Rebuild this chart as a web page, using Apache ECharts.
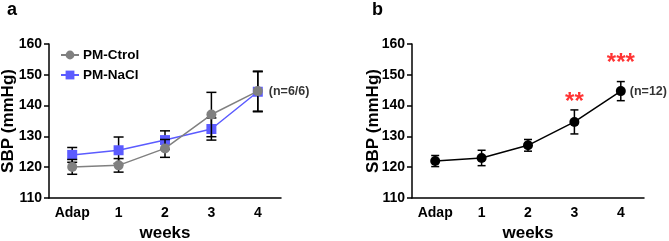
<!DOCTYPE html>
<html>
<head>
<meta charset="utf-8">
<script src="https://cdn.jsdelivr.net/npm/echarts@6/dist/echarts.min.js"></script>
<style>
  html, body { margin: 0; padding: 0; background: #fff; }
  #chart { width: 669px; height: 241px; }
</style>
</head>
<body>
<div id="chart"></div>
<script>
// 数据
const weeks = ['Adap', '1', '2', '3', '4'];
// panel a
const ctrolMean = [120.1, 120.6, 126.1, 137.1, 144.7];
const ctrolSem = [2.4, 2.2, 2.9, 7.2, 6.5];
const naclMean = [124.0, 125.5, 128.8, 132.4, 144.5];
const naclSem = [2.4, 4.3, 3.0, 3.6, 6.5];
// panel b
const allMean = [122.0, 123.0, 127.1, 134.7, 144.7];
const allSem = [1.8, 2.5, 1.9, 3.9, 3.1];
const stars = ['', '', '', '**', '***'];
const starLevel = [null, null, null, 143.1, 155.5]; // 星号所在的 SBP 高度
const yTicks = [110, 160, 10]; // min, max, interval

const font = 'Arial, "Liberation Sans", sans-serif';
const grey = '#808080';
const blue = '#5b5bff';

function xAxis(gi) {
  return {
    type: 'category', gridIndex: gi, data: weeks, boundaryGap: true,
    name: 'weeks', nameLocation: 'middle', nameGap: 26,
    nameTextStyle: { color: '#000', fontWeight: 'bold', fontSize: 17, fontFamily: font },
    axisLine: { lineStyle: { color: '#000', width: 1.5 } },
    axisTick: { alignWithLabel: true, length: 5, lineStyle: { color: '#000', width: 1.5 } },
    axisLabel: { color: '#000', fontWeight: 'bold', fontSize: 14, fontFamily: font, margin: 8 }
  };
}
function yAxis(gi, gap) {
  return {
    type: 'value', gridIndex: gi, min: yTicks[0], max: yTicks[1], interval: yTicks[2],
    name: 'SBP (mmHg)', nameLocation: 'middle', nameGap: gap, nameRotate: 90,
    nameMoveOverlap: false,
    nameTextStyle: { color: '#000', fontWeight: 'bold', fontSize: 17, fontFamily: font },
    axisLine: { show: true, lineStyle: { color: '#000', width: 1.5 } },
    axisTick: { show: true, length: 5, lineStyle: { color: '#000', width: 1.5 } },
    axisLabel: { color: '#000', fontWeight: 'bold', fontSize: 14, fontFamily: font, margin: 7 },
    splitLine: { show: false }
  };
}

// 误差线
function errBars(mean, sem, gi, capW, z) {
  return {
    type: 'custom', xAxisIndex: gi, yAxisIndex: gi, z: z, silent: true,
    encode: { x: 0, y: [1, 2] },
    data: mean.map((m, i) => [i, m - sem[i], m + sem[i]]),
    renderItem(params, api) {
      const lo = api.coord([api.value(0), api.value(1)]);
      const hi = api.coord([api.value(0), api.value(2)]);
      const h = capW / 2;
      const st = { stroke: '#000', lineWidth: 1.5 };
      return {
        type: 'group', children: [
          { type: 'line', shape: { x1: lo[0], y1: lo[1], x2: hi[0], y2: hi[1] }, style: st },
          { type: 'line', shape: { x1: lo[0] - h, y1: lo[1], x2: lo[0] + h, y2: lo[1] }, style: st },
          { type: 'line', shape: { x1: hi[0] - h, y1: hi[1], x2: hi[0] + h, y2: hi[1] }, style: st }
        ]
      };
    }
  };
}

function nLabel(gi, mean, text, dist) {
  return {
    type: 'scatter', xAxisIndex: gi, yAxisIndex: gi, symbolSize: 0, silent: true, z: 10,
    data: [[4, mean[4]]],
    label: { show: true, position: 'right', distance: dist, formatter: text,
      color: '#000', fontWeight: 'bold', fontSize: 12.5, fontFamily: font }
  };
}

const chart = echarts.init(document.getElementById('chart'));
chart.setOption({
  animation: false,
  title: [
    { text: 'a', left: 2, top: -4, textStyle: { fontSize: 18, fontWeight: 'bold', fontFamily: font, color: '#000' } },
    { text: 'b', left: 367, top: -4, textStyle: { fontSize: 18, fontWeight: 'bold', fontFamily: font, color: '#000' } }
  ],
  legend: {
    left: 55, top: 43, orient: 'vertical', itemWidth: 18, itemHeight: 11, itemGap: 6,
    data: ['PM-Ctrol', 'PM-NaCl'],
    textStyle: { color: '#000', fontWeight: 'bold', fontSize: 13.5, fontFamily: font, padding: [0, 0, 0, -1] }
  },
  grid: [
    { left: 49, top: 44, width: 232, height: 154, outerBoundsMode: 'none' },
    { left: 412, top: 44, width: 232, height: 154, outerBoundsMode: 'none' }
  ],
  xAxis: [xAxis(0), xAxis(1)],
  yAxis: [yAxis(0, 32), yAxis(1, 30)],
  series: [
    errBars(naclMean, naclSem, 0, 10, 1),
    {
      name: 'PM-NaCl', type: 'line', xAxisIndex: 0, yAxisIndex: 0, z: 2,
      data: naclMean, symbol: 'rect', symbolSize: 10,
      itemStyle: { color: blue }, lineStyle: { color: blue, width: 1.5 }
    },
    errBars(ctrolMean, ctrolSem, 0, 10, 3),
    {
      name: 'PM-Ctrol', type: 'line', xAxisIndex: 0, yAxisIndex: 0, z: 4,
      data: ctrolMean, symbol: 'circle', symbolSize: 10,
      itemStyle: { color: grey }, lineStyle: { color: grey, width: 1.5 }
    },
    nLabel(0, ctrolMean, '(n=6/6)', 11),
    errBars(allMean, allSem, 1, 8, 3),
    {
      name: 'all', type: 'line', xAxisIndex: 1, yAxisIndex: 1, z: 4,
      data: allMean, symbol: 'circle', symbolSize: 10,
      itemStyle: { color: '#000' }, lineStyle: { color: '#000', width: 1.5 }
    },
    nLabel(1, allMean, '(n=12)', 9),
    {
      type: 'scatter', xAxisIndex: 1, yAxisIndex: 1, symbolSize: 0, silent: true, z: 10,
      data: starLevel.map((v, i) => [i, v]).filter(d => d[1] != null),
      label: { show: true, position: 'inside', offset: [0, 6],
        formatter: p => stars[p.data[0]],
        color: '#ff0000', fontWeight: 'bold', fontSize: 24, fontFamily: font }
    }
  ]
});
</script>
</body>
</html>
